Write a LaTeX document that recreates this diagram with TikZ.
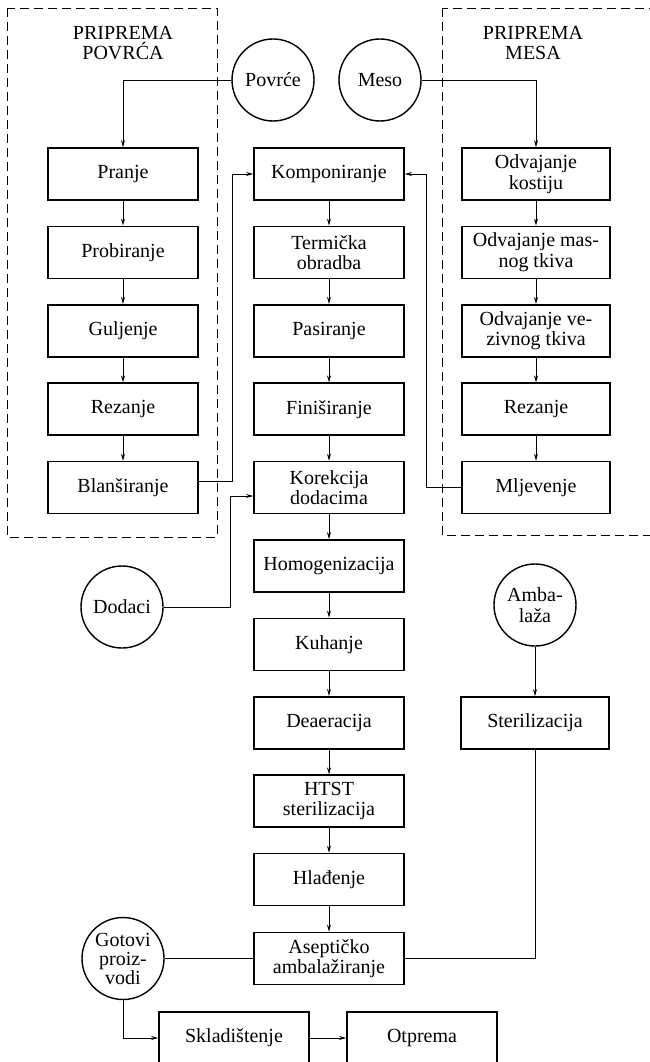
\documentclass[tikz,border=0pt]{standalone}
\usepackage{fontspec}
\setmainfont{Liberation Serif}
\usetikzlibrary{arrows.meta,calc}
\begin{document}
\begin{tikzpicture}[x=1pt,y=-1pt,
  every node/.style={font=\fontsize{20}{20.5}\selectfont, align=center, inner sep=1pt},
  procbox/.style={draw, line width=1.7pt, minimum width=150, minimum height=52},
  rbox/.style={procbox, minimum width=148},
  src/.style={draw, circle, line width=1.4pt, minimum size=82, inner sep=0pt},
  conn/.style={line width=0.9pt},
  arr/.style={conn, -{Stealth[length=7pt,width=4pt]}},
  group/.style={draw, line width=0.8pt, dash pattern=on 9pt off 5pt}
]
\useasboundingbox (0,0) rectangle (649,1062);
% groups
\draw[group] (7,8) rectangle (217,537);
\draw[group] (442,8) rectangle (660,535);
\node (t1) at (123,43) {PRIPREMA\\POVRĆA};
\node (t2) at (533,43) {PRIPREMA\\MESA};
% sources
\node[src] (povrce) at (273,80) {Povrće};
\node[src] (meso) at (380,80) {Meso};
\node[src] (dodaci) at (122,607) {Dodaci};
\node[src] (amb) at (535,605) {Amba-\\laža};
\node[src, font=\fontsize{20}{19}\selectfont] (got) at (123,958.5) {Gotovi\\proiz-\\vodi};
% left column
\node[procbox] (pranje) at (123,174) {Pranje};
\node[procbox] (prob) at (123,252.4) {Probiranje};
\node[procbox] (gulj) at (123,330.8) {Guljenje};
\node[procbox] (rez1) at (123,409.2) {Rezanje};
\node[procbox] (blan) at (123,487.6) {Blanširanje};
% center column
\node[procbox] (komp) at (329,174) {Komponiranje};
\node[procbox] (term) at (329,252.4) {Termička\\obradba};
\node[procbox] (pas) at (329,330.8) {Pasiranje};
\node[procbox] (fin) at (329,409.2) {Finiširanje};
\node[procbox] (kor) at (329,487.6) {Korekcija\\dodacima};
\node[procbox] (hom) at (329,566) {Homogenizacija};
\node[procbox] (kuh) at (329,644.4) {Kuhanje};
\node[procbox] (dea) at (329,722.8) {Deaeracija};
\node[procbox] (htst) at (329,801.2) {HTST\\sterilizacija};
\node[procbox] (hla) at (329,879.6) {Hlađenje};
\node[procbox] (asep) at (329,958.5) {Aseptičko\\ambalažiranje};
% right column
\node[rbox] (kost) at (536,174) {Odvajanje\\kostiju};
\node[rbox] (mas) at (536,252.4) {Odvajanje mas-\\nog tkiva};
\node[rbox] (vez) at (536,330.8) {Odvajanje ve-\\zivnog tkiva};
\node[rbox] (rez2) at (536,409.2) {Rezanje};
\node[rbox] (mlj) at (536,487.6) {Mljevenje};
\node[rbox] (ster) at (535,723) {Sterilizacija};
% bottom
\node[procbox] (sklad) at (234,1038) {Skladištenje};
\node[procbox] (otp) at (422,1038) {Otprema};
% connectors
\draw[arr] (povrce.west) -| (pranje.north);
\draw[arr] (meso.east) -| (kost.north);
\draw[arr] (pranje) -- (prob);
\draw[arr] (prob) -- (gulj);
\draw[arr] (gulj) -- (rez1);
\draw[arr] (rez1) -- (blan);
\draw[arr] (kost) -- (mas);
\draw[arr] (mas) -- (vez);
\draw[arr] (vez) -- (rez2);
\draw[arr] (rez2) -- (mlj);
\draw[arr] (komp) -- (term);
\draw[arr] (term) -- (pas);
\draw[arr] (pas) -- (fin);
\draw[arr] (fin) -- (kor);
\draw[arr] (kor) -- (hom);
\draw[arr] (hom) -- (kuh);
\draw[arr] (kuh) -- (dea);
\draw[arr] (dea) -- (htst);
\draw[arr] (htst) -- (hla);
\draw[arr] (hla) -- (asep);
\draw[arr] ($(blan.east)+(0,-6.6)$) -- ++(34,0) |- (komp.west);
\draw[arr] (mlj.west) -- ++(-35,0) |- (komp.east);
\draw[arr] (dodaci.east) -| ($(kor.west)+(-23,8.4)$) -- ($(kor.west)+(0,8.4)$);
\draw[arr] (amb.south) -- (ster.north);
\draw[conn] (ster.south) |- (asep.east);
\draw[conn] (asep.west) -- (got.east);
\draw[arr] (got.south) |- (sklad.west);
\draw[arr] (sklad.east) -- (otp.west);
\end{tikzpicture}
\end{document}
